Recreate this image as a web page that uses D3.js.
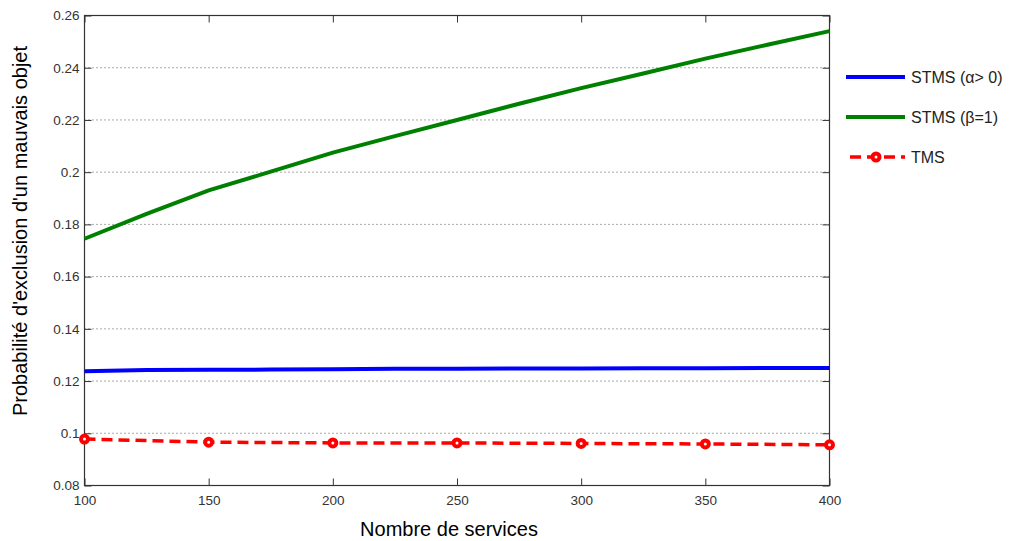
<!DOCTYPE html>
<html>
<head>
<meta charset="utf-8">
<script src="https://cdn.jsdelivr.net/npm/d3@7"></script>
<style>
  body { margin: 0; background: #fff; }
  svg { font-family: "Liberation Sans", Arial, sans-serif; }
</style>
</head>
<body>
<svg id="chart" width="1011" height="541"></svg>
<script>
var xFine = [100, 125, 150, 175, 200, 225, 250, 275, 300, 325, 350, 375, 400];
var stmsAlpha = [0.1238, 0.1242, 0.1243, 0.1244, 0.1245, 0.1247, 0.1247, 0.1248, 0.1248, 0.1249, 0.1249, 0.1250, 0.1250];
var stmsBeta = [0.1745, 0.1840, 0.1930, 0.2002, 0.2075, 0.2138, 0.2200, 0.2262, 0.2322, 0.2378, 0.2435, 0.2488, 0.2540];
var xTms = [100, 150, 200, 250, 300, 350, 400];
var tms = [0.0978, 0.0966, 0.0963, 0.0963, 0.0961, 0.0959, 0.0956];
var xTicks = [100, 150, 200, 250, 300, 350, 400];
var yTicks = [0.08, 0.1, 0.12, 0.14, 0.16, 0.18, 0.2, 0.22, 0.24, 0.26];
var legendLabels = ["STMS (\u03b1> 0)", "STMS (\u03b2=1)", "TMS"];

var svg = d3.select("#chart");
var pLeft = 84.5, pRight = 829.5, pTop = 15.5, pBottom = 485.5;

var x = d3.scaleLinear().domain([100, 400]).range([pLeft, pRight]);
var y = d3.scaleLinear().domain([0.08, 0.26]).range([pBottom, pTop]);

// grid
svg.append("g").selectAll("line")
  .data(yTicks.slice(1, -1))
  .join("line")
  .attr("x1", pLeft).attr("x2", pRight)
  .attr("y1", function (d) { return y(d); }).attr("y2", function (d) { return y(d); })
  .attr("stroke", "#555").attr("stroke-width", 1)
  .attr("stroke-dasharray", "1,3");

// axes (ticks inward, mirrored)
var axisStyle = function (g) {
  g.select(".domain").remove();
  g.selectAll(".tick line").attr("stroke", "#333");
  g.selectAll(".tick text").attr("fill", "#333").style("font-size", "13.5px");
};
svg.append("g").attr("transform", "translate(0," + pBottom + ")")
  .call(d3.axisBottom(x).tickValues(xTicks).tickSize(-7).tickPadding(10).tickFormat(d3.format("d")))
  .call(axisStyle);
svg.append("g").attr("transform", "translate(0," + pTop + ")")
  .call(d3.axisTop(x).tickValues(xTicks).tickSize(-7).tickFormat(""))
  .call(axisStyle);
svg.append("g").attr("transform", "translate(" + pLeft + ",0)")
  .call(d3.axisLeft(y).tickValues(yTicks).tickSize(-7).tickPadding(5).tickFormat(function (d) { return String(+d.toFixed(2)); }))
  .call(axisStyle);
svg.append("g").attr("transform", "translate(" + pRight + ",0)")
  .call(d3.axisRight(y).tickValues(yTicks).tickSize(-7).tickFormat(""))
  .call(axisStyle);

svg.append("rect")
  .attr("x", pLeft).attr("y", pTop)
  .attr("width", pRight - pLeft).attr("height", pBottom - pTop)
  .attr("fill", "none").attr("stroke", "#333").attr("stroke-width", 1.2);

var line = d3.line()
  .x(function (d) { return x(d[0]); })
  .y(function (d) { return y(d[1]); });

svg.append("path")
  .datum(d3.zip(xFine, stmsAlpha))
  .attr("d", line)
  .attr("fill", "none").attr("stroke", "#0000ff").attr("stroke-width", 4);

svg.append("path")
  .datum(d3.zip(xFine, stmsBeta))
  .attr("d", line)
  .attr("fill", "none").attr("stroke", "#008000").attr("stroke-width", 4);

svg.append("path")
  .datum(d3.zip(xTms, tms))
  .attr("d", line)
  .attr("fill", "none").attr("stroke", "#ff0000").attr("stroke-width", 3.5)
  .attr("stroke-dasharray", "11,6");

svg.append("g").selectAll("circle")
  .data(d3.zip(xTms, tms))
  .join("circle")
  .attr("cx", function (d) { return x(d[0]); })
  .attr("cy", function (d) { return y(d[1]); })
  .attr("r", 3.5)
  .attr("fill", "#fff").attr("stroke", "#ff0000").attr("stroke-width", 4);

// legend
var legendY = [77, 117, 157];
var lg = svg.append("g");
lg.append("line").attr("x1", 846).attr("x2", 905).attr("y1", legendY[0]).attr("y2", legendY[0])
  .attr("stroke", "#0000ff").attr("stroke-width", 4);
lg.append("line").attr("x1", 846).attr("x2", 905).attr("y1", legendY[1]).attr("y2", legendY[1])
  .attr("stroke", "#008000").attr("stroke-width", 4);
lg.append("line").attr("x1", 850).attr("x2", 905).attr("y1", legendY[2]).attr("y2", legendY[2])
  .attr("stroke", "#ff0000").attr("stroke-width", 3.5).attr("stroke-dasharray", "11,6");
lg.append("circle").attr("cx", 876).attr("cy", legendY[2]).attr("r", 3.5)
  .attr("fill", "#fff").attr("stroke", "#ff0000").attr("stroke-width", 4);
lg.selectAll("text")
  .data(legendLabels)
  .join("text")
  .attr("x", 911)
  .attr("y", function (d, i) { return legendY[i]; })
  .attr("dy", "0.36em")
  .attr("fill", "#222")
  .style("font-size", "16px")
  .text(function (d) { return d; });

// axis titles
svg.append("text")
  .attr("x", 449).attr("y", 536)
  .attr("text-anchor", "middle")
  .style("font-size", "20px").attr("fill", "#000")
  .text("Nombre de services");

svg.append("text")
  .attr("transform", "translate(27,231) rotate(-90)")
  .attr("text-anchor", "middle")
  .style("font-size", "20px").attr("fill", "#000")
  .text("Probabilit\u00e9 d'exclusion d'un mauvais objet");
</script>
</body>
</html>
